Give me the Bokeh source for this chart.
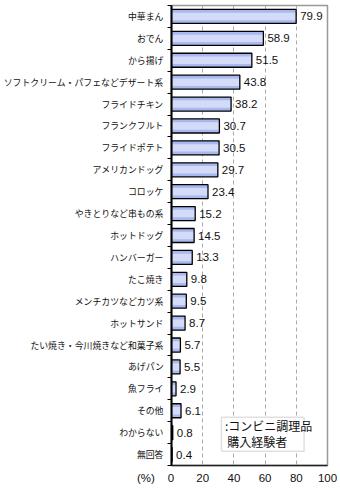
from bokeh.plotting import figure
from bokeh.models import FixedTicker, Range1d, ColumnDataSource, Label, BoxAnnotation
from bokeh.core.properties import value
from bokeh.embed import file_html
from bokeh.resources import INLINE

categories = ["中華まん", "おでん", "から揚げ", "ソフトクリーム・パフェなどデザート系",
              "フライドチキン", "フランクフルト", "フライドポテト", "アメリカンドッグ",
              "コロッケ", "やきとりなど串もの系", "ホットドッグ", "ハンバーガー",
              "たこ焼き", "メンチカツなどカツ系", "ホットサンド",
              "たい焼き・今川焼きなど和菓子系", "あげパン", "魚フライ", "その他",
              "わからない", "無回答"]
values = [79.9, 58.9, 51.5, 43.8, 38.2, 30.7, 30.5, 29.7, 23.4, 15.2, 14.5, 13.3,
          9.8, 9.5, 8.7, 5.7, 5.5, 2.9, 6.1, 0.8, 0.4]
x_ticks = [0, 20, 40, 60, 80, 100]
legend_lines = [":コンビニ調理品", "購入経験者"]
unit_label = "(%)"

n = len(categories)
idx = list(range(n))
src = ColumnDataSource(dict(y=idx, v=values, cat=categories,
                            lab=[f"{v:.1f}" for v in values]))

JP = "Noto Sans CJK JP"
NUM = "Liberation Sans"

p = figure(width=340, height=495, output_backend="svg", toolbar_location=None,
           x_range=Range1d(0, 100), y_range=Range1d(n - 0.5, -0.5),
           min_border_left=168, min_border_right=13, min_border_top=5,
           min_border_bottom=30)
p.background_fill_color = "white"
p.border_fill_color = "white"
p.outline_line_color = "#999999"
p.outline_line_width = 1.5

# bars with a simple gradient-like look
p.hbar(y="y", right="v", left=0, height=0.64, source=src,
       fill_color="#a9b8ee", line_color=None)
p.hbar(y="y", right="v", left=0, height=0.34, source=src,
       fill_color="#d3dbf9", line_color=None)
p.hbar(y="y", right="v", left=0, height=0.64, source=src,
       fill_color=None, line_color="black", line_width=1.3)

p.text(x="v", y="y", text="lab", source=src, x_offset=4,
       text_baseline="middle", text_align="left",
       text_font=value(NUM), text_font_size="11.5px", text_color="#111111")

# x axis; the unit "(%)" sits left of the 0 tick label on the same line
NB = "\u00a0"
x_labels = {t: str(t) for t in x_ticks}
x_labels[0] = unit_label + NB * 4 + "0" + NB * 10
p.xaxis.ticker = FixedTicker(ticks=x_ticks)
p.xaxis.major_label_overrides = x_labels
p.xaxis.major_tick_out = 0
p.xaxis.major_tick_in = 0
p.xaxis.minor_tick_out = 0
p.xaxis.minor_tick_in = 0
p.xaxis.axis_line_color = "#222222"
p.xaxis.axis_line_width = 1.5
p.xaxis.major_label_text_font = NUM
p.xaxis.major_label_text_font_size = "11.5px"
p.xaxis.major_label_text_color = "#111111"
p.xaxis.major_label_standoff = 6

p.xgrid.ticker = FixedTicker(ticks=x_ticks[1:-1])
p.xgrid.grid_line_color = "#aaaaaa"
p.xgrid.grid_line_dash = "4 3"
p.ygrid.visible = False

# y axis: labels at centres, small ticks at category boundaries
bounds = [i + 0.5 for i in range(-1, n)]
p.yaxis.ticker = FixedTicker(ticks=idx, minor_ticks=bounds)
p.yaxis.major_label_overrides = {i: c for i, c in zip(idx, categories)}
p.yaxis.major_tick_out = 0
p.yaxis.major_tick_in = 0
p.yaxis.minor_tick_out = 4
p.yaxis.minor_tick_in = 0
p.yaxis.minor_tick_line_color = "black"
p.yaxis.axis_line_color = "black"
p.yaxis.axis_line_width = 2
p.yaxis.major_label_text_font = JP
p.yaxis.major_label_text_font_size = "8.9px"
p.yaxis.major_label_text_color = "#111111"
p.yaxis.major_label_standoff = 4

# legend-like note box
p.add_layout(BoxAnnotation(left=32, right=85, top=18.3, bottom=19.85,
                           fill_color="white", fill_alpha=1,
                           line_color="#999999", line_width=1.5))
p.add_layout(Label(x=34.3, y=18.68, text=legend_lines[0], text_font=JP,
                   text_font_size="12px", text_baseline="middle",
                   text_color="#111111"))
p.add_layout(Label(x=35.8, y=19.42, text=legend_lines[1], text_font=JP,
                   text_font_size="12px", text_baseline="middle",
                   text_color="#111111"))

open("out.html", "w").write(file_html(p, INLINE))
